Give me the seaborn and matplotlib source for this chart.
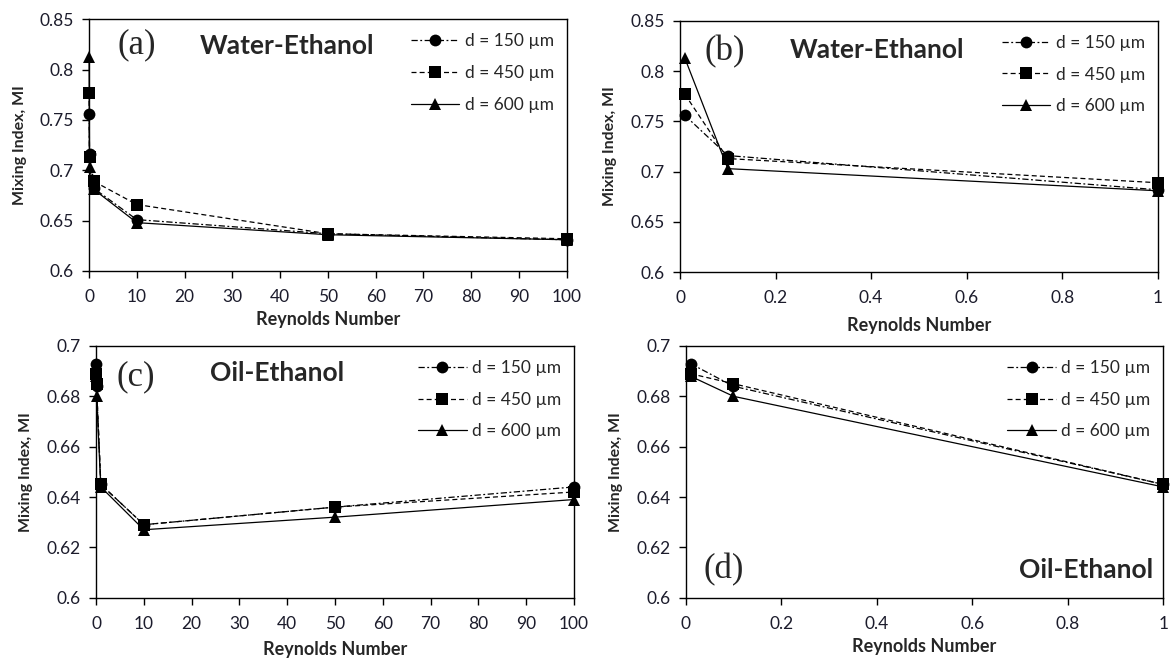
import pandas as pd
import seaborn as sns
import matplotlib.pyplot as plt
from matplotlib.ticker import FuncFormatter

# --- Data ---
reynolds = [0.01, 0.1, 1, 10, 50, 100]
diameters = ["d = 150 µm", "d = 450 µm", "d = 600 µm"]

# Water-Ethanol mixing index
we_150 = [0.756, 0.716, 0.682, 0.651, 0.637, 0.631]
we_450 = [0.777, 0.713, 0.689, 0.666, 0.637, 0.632]
we_600 = [0.813, 0.703, 0.681, 0.648, 0.636, 0.631]

# Oil-Ethanol mixing index
oe_150 = [0.693, 0.684, 0.645, 0.629, 0.636, 0.644]
oe_450 = [0.689, 0.685, 0.645, 0.629, 0.636, 0.642]
oe_600 = [0.688, 0.680, 0.644, 0.627, 0.632, 0.639]


def to_long(series):
    rows = []
    for label, vals in zip(diameters, series):
        for re_val, mi in zip(reynolds, vals):
            rows.append({"Re": re_val, "MI": mi, "d": label})
    return pd.DataFrame(rows)


df_we = to_long([we_150, we_450, we_600])
df_oe = to_long([oe_150, oe_450, oe_600])

sns.set_style("ticks")
plt.rcParams['font.family'] = ['Lato', 'DejaVu Sans']

fig = plt.figure(figsize=(11.7, 6.59), dpi=100)

markers = {diameters[0]: "o", diameters[1]: "s", diameters[2]: "^"}
dashes = {diameters[0]: (5, 2, 1.5, 2), diameters[1]: (4, 2.5), diameters[2]: ""}
tick_col = "#1c1c2c"
fmt = FuncFormatter(lambda v, _: f"{round(v, 3):g}")

# panel: (rect, data, xmax, ylim, yticks, tag, tag_pos, name, name_pos, name_ha, ylabel_x, xlabel_y)
panels = [
    ([0.0761, 0.5888, 0.4083, 0.382], df_we, 100, (0.6, 0.85), [0.6, 0.65, 0.7, 0.75, 0.8, 0.85],
     "(a)", (0.059, 0.898), "Water-Ethanol", (0.232, 0.895), "left", -0.13, -0.16),
    ([0.5812, 0.5868, 0.4083, 0.3818], df_we[df_we["Re"] <= 1], 1, (0.6, 0.85), [0.6, 0.65, 0.7, 0.75, 0.8, 0.85],
     "(b)", (0.052, 0.876), "Water-Ethanol", (0.23, 0.885), "left", -0.132, -0.178),
    ([0.0821, 0.0930, 0.4085, 0.382], df_oe, 100, (0.6, 0.7), [0.6, 0.62, 0.64, 0.66, 0.68, 0.7],
     "(c)", (0.042, 0.878), "Oil-Ethanol", (0.239, 0.892), "left", -0.132, -0.172),
    ([0.5861, 0.0930, 0.4082, 0.382], df_oe[df_oe["Re"] <= 1], 1, (0.6, 0.7), [0.6, 0.62, 0.64, 0.66, 0.68, 0.7],
     "(d)", (0.038, 0.11), "Oil-Ethanol", (0.978, 0.11), "right", -0.131, -0.16),
]

for rect, data, xmax, ylim, yticks, tag, tag_pos, name, name_pos, name_ha, ylab_x, xlab_y in panels:
    ax = fig.add_axes(rect)
    sns.lineplot(data=data, x="Re", y="MI", style="d", style_order=diameters,
                 markers=markers, dashes=dashes, color="black", lw=0.9,
                 markersize=8.5, markeredgewidth=0, clip_on=False, errorbar=None, ax=ax)

    ax.set_xlim(0, xmax)
    ax.set_ylim(*ylim)
    if xmax == 100:
        ax.set_xticks(range(0, 101, 10))
    else:
        ax.set_xticks([0, 0.2, 0.4, 0.6, 0.8, 1])
    ax.set_yticks(yticks)
    ax.xaxis.set_major_formatter(fmt)
    ax.yaxis.set_major_formatter(fmt)
    ax.tick_params(axis="both", direction="out", length=5, width=1, labelsize=12.5,
                   colors="black", labelcolor=tick_col)
    ax.tick_params(axis="x", pad=8)
    ax.tick_params(axis="y", pad=6)
    for sp in ax.spines.values():
        sp.set_visible(True)
        sp.set_color("black")
        sp.set_linewidth(1)

    ax.set_xlabel("Reynolds Number", fontsize=13, fontweight="bold")
    ax.set_ylabel("Mixing Index, MI", fontsize=11.5, fontweight="bold")
    ax.yaxis.set_label_coords(ylab_x, 0.5)
    ax.xaxis.set_label_coords(0.5, xlab_y)

    ax.text(*tag_pos, tag, transform=ax.transAxes, fontsize=25,
            family=["Liberation Serif"], va="center", ha="left")
    ax.text(*name_pos, name, transform=ax.transAxes, fontsize=19, fontweight="bold",
            va="center", ha=name_ha)

    handles, labels = ax.get_legend_handles_labels()
    ax.legend(handles, labels, loc="upper right", bbox_to_anchor=(0.995, 0.985),
              frameon=False, fontsize=12.5, labelspacing=0.9, handlelength=2.8,
              handletextpad=0.3, borderaxespad=0.2)

fig.savefig("out.png", dpi=100)
